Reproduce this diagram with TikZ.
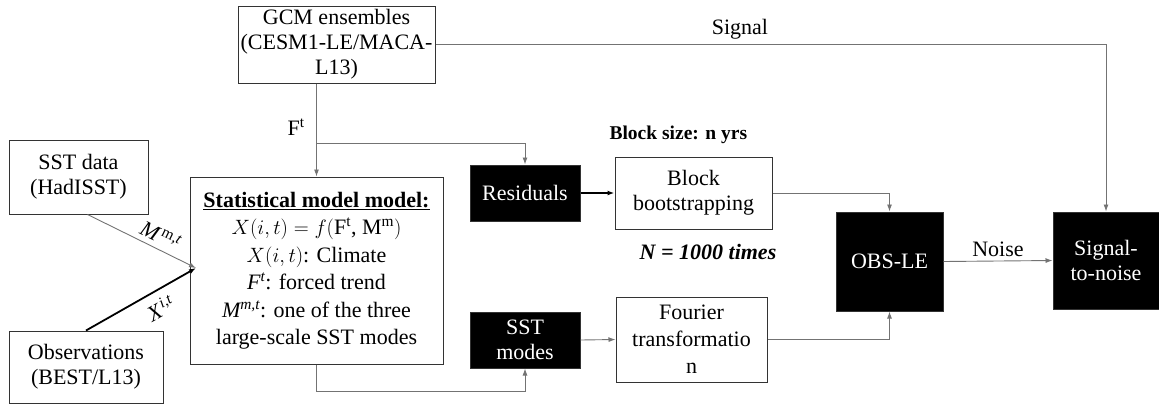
\documentclass[tikz,border=0pt]{standalone}
\usepackage{fontspec}
\setmainfont{Liberation Serif}
\usetikzlibrary{arrows.meta}

\begin{document}
\begin{tikzpicture}[x=1pt,y=-1pt,
    box/.style={draw=black!80,line width=1pt,fill=white,align=center,inner sep=0pt,font=\fontsize{22}{25}\selectfont},
    blackbox/.style={box,fill=black,text=white},
    link/.style={draw=black!55,line width=0.9pt,-{Latex[length=7pt,width=5pt]}},
    boldlink/.style={link,draw=black,line width=1.8pt}]

    \useasboundingbox (0,0) rectangle (1159,405);

    \node[box,minimum width=197pt,minimum height=77pt] (gcm) at (336.5,44.5) {GCM ensembles\\(CESM1-LE/MACA-\\L13)};
    \node[box,minimum width=139pt,minimum height=74pt] (sstdata) at (78.5,177) {SST data\\(HadISST)};
    \node[box,minimum width=154pt,minimum height=72pt] (obs) at (86,367) {Observations\\(BEST/L13)};
    \node[box,minimum width=253pt,minimum height=187pt,font=\fontsize{22}{27.5}\selectfont] (stat) at (316.5,270.5) {\textbf{\underline{Statistical model model:}}\\$X(i,t)=f($F\textsuperscript{t}, M\textsuperscript{m}$)$\\$X(i,t)$: Climate\\\textit{F\textsuperscript{t}}: forced trend\\\textit{M\textsuperscript{m,t}}: one of the three\\large-scale SST modes};
    \node[blackbox,minimum width=110pt,minimum height=56pt] (resid) at (525,193) {Residuals};
    \node[blackbox,minimum width=110pt,minimum height=56pt] (sstmodes) at (525,340) {SST\\modes};
    \node[box,minimum width=157pt,minimum height=72pt] (block) at (693.5,193) {Block\\bootstrapping};
    \node[box,minimum width=151pt,minimum height=85pt,font=\fontsize{22}{27}\selectfont] (fourier) at (691.5,339.5) {Fourier\\transformatio\\n};
    \node[blackbox,minimum width=107pt,minimum height=99pt] (obsle) at (889.5,261.5) {OBS-LE};
    \node[blackbox,minimum width=106pt,minimum height=97pt] (s2n) at (1106,260.5) {Signal-\\to-noise};

    \node[anchor=west,font=\bfseries\fontsize{19.5}{24}\selectfont] (blocksize) at (606,135) {Block size: n yrs};
    \node[font=\bfseries\itshape\fontsize{22}{26}\selectfont] (ntimes) at (708,252) {N = 1000 times};

    \coordinate (fork) at (316.5,143);
    \coordinate (statin) at (196,268);

    \draw[link] (gcm.east) -| node[pos=0.227,above=1pt,font=\fontsize{22}{25}\selectfont] {Signal} (s2n.north);
    \draw[link] (gcm.south -| stat.north) -- node[pos=0.47,left=8pt,font=\fontsize{22}{25}\selectfont] {F\textsuperscript{t}} (stat.north);
    \draw[link] (fork) -| (resid.north);
    \draw[link] ([xshift=9pt]sstdata.south) -- node[pos=0.62,sloped,above=2pt,font=\fontsize{22}{25}\selectfont] {\textit{M}\kern1.5pt\textsuperscript{m,\textit{t}}} (statin);
    \draw[boldlink] (obs.north) -- node[pos=0.6,sloped,below=4pt,font=\fontsize{22}{25}\selectfont] {\textit{X}\kern1.5pt\textsuperscript{\textit{i,t}}} (statin);
    \draw[link] (stat.south) -- ++(0,27) -| (sstmodes.south);
    \draw[boldlink] (resid.east) -- (block.west);
    \draw[link] (sstmodes.east) -- (fourier.west);
    \draw[link] (block.east) -| (obsle.north);
    \draw[link] (fourier.east) -| (obsle.south);
    \draw[link] (obsle.east) -- node[midway,above=1pt,font=\fontsize{22}{25}\selectfont] {Noise} (s2n.west);

\end{tikzpicture}
\end{document}
